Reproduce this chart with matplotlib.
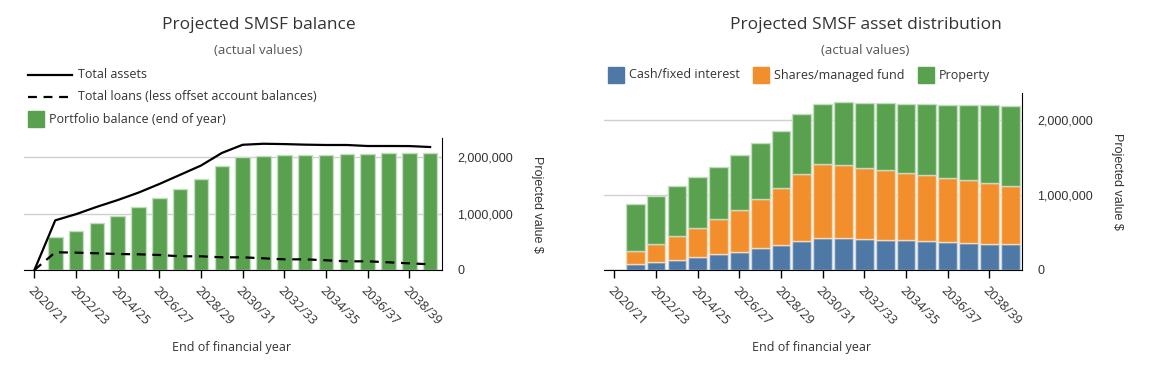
import numpy as np
import matplotlib
matplotlib.use('Agg')
import matplotlib.pyplot as plt
from matplotlib.lines import Line2D
from matplotlib.patches import Rectangle
from matplotlib.ticker import FuncFormatter

plt.rcParams['font.family'] = ['Open Sans', 'DejaVu Sans']

years = ['2020/21', '2021/22', '2022/23', '2023/24', '2024/25', '2025/26', '2026/27',
         '2027/28', '2028/29', '2029/30', '2030/31', '2031/32', '2032/33', '2033/34',
         '2034/35', '2035/36', '2036/37', '2037/38', '2038/39', '2039/40']

# left chart
portfolio = [0, 580000, 686000, 828000, 959000, 1112000, 1272000, 1432000, 1609000, 1840000,
             2000000, 2018000, 2036000, 2036000, 2036000, 2053000, 2053000, 2071000, 2071000, 2071000]
total_assets = [0, 880000, 990000, 1120000, 1240000, 1372000, 1525000, 1688000, 1852000, 2075000,
                2220000, 2238000, 2232000, 2222000, 2216000, 2216000, 2198000, 2198000, 2197000, 2180000]
total_loans = [0, 314000, 308000, 296000, 284000, 278000, 266000, 243000, 243000, 225000,
               225000, 207000, 189000, 189000, 172000, 154000, 154000, 136000, 118000, 101000]

# right chart
cash = [0, 76000, 107000, 134000, 174000, 214000, 241000, 294000, 334000, 388000,
        428000, 428000, 414000, 401000, 401000, 388000, 374000, 361000, 347000, 347000]
shares = [0, 173000, 240000, 320000, 383000, 463000, 561000, 650000, 762000, 895000,
          988000, 971000, 949000, 935000, 891000, 877000, 855000, 842000, 811000, 771000]
prop = [0, 631000, 643000, 666000, 683000, 695000, 730000, 744000, 756000, 792000,
        804000, 839000, 869000, 886000, 924000, 951000, 969000, 995000, 1039000, 1062000]

W, H = 1152, 368
fig = plt.figure(figsize=(W / 100, H / 100), dpi=100)

GREEN = '#59a14f'
ORANGE = '#f28e2b'
BLUE = '#4e79a7'
TXT = '#333333'


def px(x, y):
    return x / W, 1 - y / H


def style_axes(ax, ymax):
    x = np.arange(len(years))
    ax.set_xlim(-0.5, 19.57)
    ax.set_ylim(0, ymax)
    for s in ['left', 'top']:
        ax.spines[s].set_visible(False)
    ax.spines['bottom'].set_color('black')
    ax.spines['right'].set_color('black')
    ax.yaxis.tick_right()
    ax.set_yticks([0, 1000000, 2000000])
    ax.yaxis.set_major_formatter(FuncFormatter(lambda v, p: '{:,.0f}'.format(v)))
    ax.tick_params(axis='y', length=0, pad=11, labelsize=9, labelcolor=TXT)
    for lab in ax.get_yticklabels():
        lab.set_family('Liberation Sans')
    ax.set_xticks(x[::2])
    ax.set_xticklabels(years[::2], rotation=-45, ha='left', va='top',
                       rotation_mode='anchor', fontsize=9.3, color=TXT)
    ax.tick_params(axis='x', length=6, width=1, color='black', pad=4)
    ax.grid(axis='y', color='#d0d0d0', linewidth=1)
    ax.set_axisbelow(True)
    ax.yaxis.set_label_position('right')
    ax.set_ylabel('Projected value $', rotation=270, fontsize=9, color=TXT,
                  family='Liberation Sans', va='center')
    ax.yaxis.set_label_coords(1.227, 0.5)


# ---- left: balance
ax1 = fig.add_axes([24 / W, 98 / H, 418 / W, 132 / H])
x = np.arange(len(years))
ax1.bar(x, portfolio, width=0.7, color=GREEN, edgecolor='#c4dcc0', linewidth=1, zorder=2)
ax1.plot(x, total_assets, color='black', linewidth=1.6, zorder=3)
ax1.plot(x, total_loans, color='black', linewidth=1.6, dashes=(4, 3), zorder=3)
style_axes(ax1, 2340000)

# ---- right: distribution
ax2 = fig.add_axes([604 / W, 98 / H, 418 / W, 177 / H])
ax2.bar(x, cash, width=0.9, color=BLUE, edgecolor='#cdd7e4', linewidth=1, zorder=2)
ax2.bar(x, shares, width=0.9, bottom=cash, color=ORANGE, edgecolor='#f6d9b8', linewidth=1, zorder=2)
ax2.bar(x, prop, width=0.9, bottom=np.add(cash, shares), color=GREEN, edgecolor='#c4dcc0',
        linewidth=1, zorder=2)
style_axes(ax2, 2360000)

# titles
for cx, title in [(259, 'Projected SMSF balance'), (866, 'Projected SMSF asset distribution')]:
    fig.text(*px(cx, 25), title, ha='center', va='center', fontsize=12.5, color=TXT)
    fig.text(*px(cx - 1, 50), '(actual values)', ha='center', va='center', fontsize=9.5, color='#555555')

# x labels
for cx in [232, 812]:
    fig.text(*px(cx, 348), 'End of financial year', ha='center', va='center', fontsize=9, color=TXT)

# left legend
fs_leg = 9
fig.add_artist(Line2D([28 / W, 72 / W], [1 - 75 / H] * 2, color='black', linewidth=1.6))
fig.text(*px(78, 75), 'Total assets', va='center', fontsize=fs_leg, color=TXT)
fig.add_artist(Line2D([28 / W, 72 / W], [1 - 97 / H] * 2, color='black', linewidth=1.6, dashes=(4, 3)))
fig.text(*px(78, 97), 'Total loans (less offset account balances)', va='center', fontsize=fs_leg, color=TXT)
fig.add_artist(Rectangle(px(28, 127), 16 / W, 16 / H, color=GREEN))
fig.text(*px(49, 119), 'Portfolio balance (end of year)', va='center', fontsize=fs_leg, color=TXT)

# right legend
for sx, c, lab in [(608, BLUE, 'Cash/fixed interest'), (753, ORANGE, 'Shares/managed fund'),
                   (918, GREEN, 'Property')]:
    fig.add_artist(Rectangle(px(sx, 83), 16 / W, 16 / H, color=c))
    fig.text(*px(sx + 21, 75), lab, va='center', fontsize=fs_leg, color=TXT)

fig.savefig('out.png', dpi=100)
